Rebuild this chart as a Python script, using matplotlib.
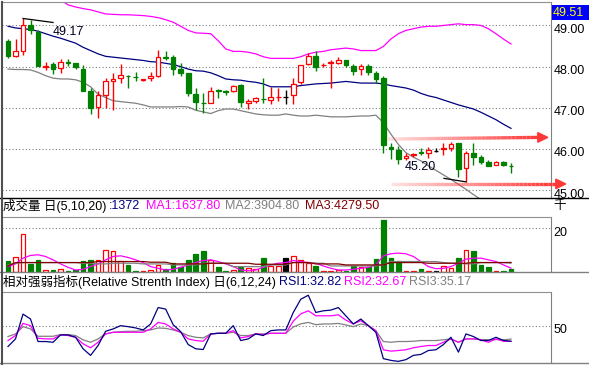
import numpy as np
import matplotlib
matplotlib.use('Agg')
import matplotlib.pyplot as plt
import matplotlib.transforms as mtransforms
from matplotlib.collections import LineCollection
from matplotlib.patches import Polygon, Rectangle
from matplotlib.lines import Line2D

plt.rcParams['font.family'] = ['Liberation Sans', 'Noto Sans CJK SC', 'DejaVu Sans']

nan = np.nan

# daily candles (68 days)
opens = [48.63, 48.27, 48.39, 49.02, 48.85, 48.00, 48.07, 47.96, 48.11, 48.10,
         47.94, 47.40, 47.01, 47.31, 47.66, 47.72, 47.78, 47.75, 47.68, 47.72,
         47.76, 48.23, 48.23, 47.94, 47.85, 47.33, 47.12, 47.11, 47.42, 47.40,
         47.41, 47.56, 47.11, 47.16, 47.22, 47.19, 47.26, 47.25, 47.31, 47.63,
         48.07, 48.27, 48.04, 48.08, 48.10, 48.16, 48.02, 47.93, 48.02, 47.84,
         47.72, 46.05, 45.98, 45.79, 45.86, 45.92, 45.89, 45.95, 45.99, 46.03,
         46.15, 45.53, 45.89, 45.81, 45.68, 45.61, 45.68, 45.59]
highs = [48.67, 48.67, 49.17, 49.14, 48.89, 48.11, 48.11, 48.19, 48.19, 48.10,
         48.05, 47.48, 47.41, 47.72, 47.84, 48.07, 47.79, 47.87, 47.71, 47.86,
         48.41, 48.39, 48.28, 48.08, 47.85, 47.49, 47.37, 47.51, 47.45, 47.43,
         47.55, 47.58, 47.21, 47.27, 47.72, 47.51, 47.49, 47.44, 47.72, 48.04,
         48.33, 48.39, 48.08, 48.15, 48.23, 48.16, 48.07, 48.07, 48.07, 47.90,
         47.78, 46.15, 46.07, 45.91, 45.91, 46.02, 46.04, 46.02, 46.15, 46.18,
         46.15, 45.95, 46.15, 45.85, 45.72, 45.71, 45.71, 45.65]
lows = [48.21, 48.23, 48.29, 48.80, 48.01, 47.92, 47.82, 47.84, 48.02, 47.93,
        47.40, 46.85, 46.75, 47.00, 46.95, 47.59, 47.47, 47.64, 47.66, 47.66,
        47.74, 48.16, 47.80, 47.76, 47.29, 46.94, 46.87, 47.11, 47.23, 47.31,
        47.39, 47.02, 46.98, 47.12, 47.12, 47.09, 47.16, 47.10, 47.10, 47.58,
        48.05, 47.89, 47.98, 47.49, 48.07, 48.00, 47.80, 47.80, 47.80, 47.59,
        45.91, 45.76, 45.63, 45.72, 45.80, 45.85, 45.77, 45.93, 45.86, 45.96,
        45.31, 45.20, 45.61, 45.64, 45.59, 45.61, 45.58, 45.41]
closes = [48.27, 48.39, 49.02, 48.89, 48.01, 48.02, 47.93, 48.12, 48.10, 47.98,
          47.40, 47.00, 47.31, 47.65, 47.71, 47.80, 47.77, 47.74, 47.71, 47.76,
          48.24, 48.21, 47.93, 47.84, 47.37, 47.15, 47.11, 47.40, 47.41, 47.39,
          47.52, 47.13, 47.17, 47.24, 47.21, 47.26, 47.27, 47.25, 47.58, 48.04,
          48.26, 47.98, 48.05, 48.11, 48.16, 48.03, 47.90, 48.02, 47.86, 47.70,
          46.10, 45.99, 45.75, 45.83, 45.87, 45.91, 45.98, 45.95, 46.03, 46.13,
          45.52, 45.89, 45.81, 45.68, 45.59, 45.68, 45.60, 45.58]

# bollinger-style bands on the price panel
boll_up = [nan, nan, nan, nan, nan, nan, nan, 49.62, 49.50, 49.45,
           49.41, 49.38, 49.33, 49.28, 49.27, 49.26, 49.26, 49.25, 49.24, 49.22,
           49.19, 49.14, 49.08, 48.98, 48.88, 48.82, 48.81, 48.80, 48.63, 48.43,
           48.37, 48.37, 48.35, 48.31, 48.24, 48.20, 48.20, 48.20, 48.20, 48.24,
           48.31, 48.35, 48.37, 48.41, 48.43, 48.45, 48.43, 48.39, 48.39, 48.39,
           48.49, 48.67, 48.80, 48.88, 48.92, 48.96, 48.98, 48.98, 49.00, 49.02,
           49.04, 49.02, 49.02, 49.00, 48.92, 48.80, 48.67, 48.55]
boll_mid = [48.98, 48.94, 48.92, 48.90, 48.86, 48.80, 48.74, 48.69, 48.63, 48.57,
            48.47, 48.39, 48.31, 48.25, 48.23, 48.21, 48.19, 48.17, 48.15, 48.12,
            48.11, 48.08, 48.05, 48.00, 47.94, 47.90, 47.89, 47.85, 47.78, 47.70,
            47.68, 47.67, 47.64, 47.62, 47.58, 47.51, 47.51, 47.51, 47.51, 47.54,
            47.56, 47.58, 47.59, 47.60, 47.62, 47.64, 47.62, 47.60, 47.60, 47.60,
            47.58, 47.54, 47.51, 47.48, 47.43, 47.35, 47.29, 47.25, 47.19, 47.13,
            47.07, 47.02, 46.97, 46.89, 46.80, 46.71, 46.60, 46.50]
boll_low = [47.94, 47.93, 47.93, 47.92, 47.86, 47.78, 47.72, 47.70, 47.70, 47.68,
            47.62, 47.51, 47.33, 47.25, 47.17, 47.15, 47.13, 47.11, 47.07, 47.02,
            47.02, 47.02, 47.02, 47.03, 47.02, 46.94, 46.90, 46.86, 46.93, 46.97,
            46.97, 46.93, 46.89, 46.85, 46.83, 46.82, 46.82, 46.85, 46.82, 46.80,
            46.80, 46.82, 46.80, 46.78, 46.78, 46.78, 46.79, 46.80, 46.80, 46.82,
            46.64, 46.36, 46.11, 45.91, 45.80, 45.71, 45.59, 45.48, 45.37, 45.26,
            45.14, 45.02, 44.89, 44.77, nan, nan, nan, nan]

# volume (lots) and its moving averages
volume = [5000, 6700, 17600, 3600, 5500, 800, 800, 1100, 470, 800,
          5000, 5500, 5500, 10150, 9700, 5150, 3100, 470, 330, 800,
          3100, 1100, 4200, 2350, 5500, 8100, 9350, 5500, 2000, 330,
          800, 2000, 1550, 1250, 6200, 2650, 2650, 6200, 7350, 5500,
          3900, 2650, 330, 330, 800, 470, 2650, 2350, 2000, 5750,
          23700, 6200, 5150, 470, 330, 1100, 470, 470, 2650, 1550,
          6200, 9800, 9350, 3100, 2000, 330, 330, 1372]
vol_ma1 = [2340, 3590, 6240, 7490, 7800, 7020, 5460, 3590, 2030, 780,
           1090, 2340, 3590, 5460, 7020, 7330, 6550, 5460, 4210, 2340,
           1560, 780, 1090, 2030, 3120, 4210, 5150, 5460, 4680, 3590,
           2340, 780, 470, 780, 2030, 3120, 3900, 4210, 5150, 4680,
           4210, 3900, 2650, 1560, 780, 780, 1090, 1560, 2030, 3120,
           7330, 8270, 8580, 8270, 7020, 4680, 2340, 1400, 1560, 2340,
           3900, 5770, 6240, 6240, 5460, 4680, 3120, 1637.80]
vol_ma2 = [3120, 3900, 4210, 4210, 4210, 4210, 4210, 4210, 4210, 4210,
           3900, 3900, 3590, 3590, 3900, 3900, 3900, 3900, 3590, 3590,
           3590, 3590, 3120, 3120, 3120, 3120, 3900, 3900, 3900, 3900,
           2340, 2340, 2340, 2340, 2340, 3120, 3120, 3120, 4210, 4210,
           4210, 3900, 3900, 2650, 2650, 2650, 2650, 2650, 2650, 2650,
           3120, 4680, 4680, 4680, 4680, 4680, 4680, 4680, 4210, 3900,
           3900, 3590, 3590, 4210, 4210, 4210, 4210, 3904.80]
vol_ma3 = [2650, 4210, 4210, 4210, 4210, 4210, 4210, 4210, 4210, 4210,
           4210, 4210, 4680, 4680, 4680, 4680, 4680, 4680, 4680, 4370,
           4370, 4370, 3590, 3590, 3590, 3590, 3590, 3900, 3900, 3900,
           3900, 3900, 3900, 3430, 3430, 3430, 3430, 3430, 4210, 4210,
           4210, 3590, 3590, 3590, 3590, 3120, 3120, 3120, 3120, 3120,
           3120, 4210, 4210, 4210, 4210, 4210, 3900, 3900, 3900, 3900,
           3900, 3900, 4210, 4210, 4210, 4210, 4210, 4279.50]

# RSI (6, 12, 24)
rsi1 = [27.0, 35.4, 62.8, 57.3, 32.5, 32.5, 31.7, 39.8, 39.8, 37.2,
        24.5, 17.2, 28.1, 43.8, 46.4, 50.0, 48.9, 47.5, 45.3, 51.9,
        70.0, 68.3, 51.1, 43.4, 29.2, 24.5, 23.7, 40.9, 41.6, 41.6,
        50.0, 33.6, 35.4, 40.9, 39.1, 44.5, 45.3, 45.3, 64.6, 79.2,
        83.6, 64.6, 66.4, 67.2, 70.0, 60.9, 51.9, 57.3, 50.0, 42.7,
        13.6, 11.7, 10.6, 12.5, 17.2, 18.3, 22.6, 23.4, 29.2, 37.2,
        20.8, 40.9, 38.0, 33.6, 33.6, 37.2, 33.6, 32.82]
rsi2 = [33.6, 39.1, 52.5, 50.0, 36.1, 35.4, 35.4, 39.8, 39.1, 37.2,
        30.0, 25.6, 31.7, 40.9, 42.7, 42.7, 42.7, 42.7, 42.7, 46.4,
        53.6, 51.9, 46.4, 42.7, 35.4, 33.6, 32.8, 40.9, 41.6, 41.6,
        44.5, 36.5, 38.0, 40.9, 40.2, 41.6, 41.6, 41.6, 55.0, 63.0,
        66.4, 60.9, 60.9, 60.9, 62.0, 56.2, 51.9, 55.5, 50.0, 44.5,
        23.4, 21.9, 22.6, 23.4, 25.6, 27.0, 28.1, 28.1, 31.7, 35.4,
        31.7, 35.4, 35.4, 34.4, 31.7, 35.4, 32.8, 32.67]
rsi3 = [38.0, 40.9, 48.9, 46.4, 38.3, 38.3, 38.3, 40.2, 40.2, 39.1,
        34.4, 31.7, 35.4, 40.9, 42.7, 43.4, 43.8, 43.8, 44.5, 45.3,
        47.5, 47.0, 45.3, 42.7, 39.1, 37.2, 36.5, 40.9, 41.6, 41.6,
        42.7, 39.1, 39.1, 40.9, 40.9, 41.6, 41.6, 41.6, 48.5, 52.0,
        53.6, 51.1, 51.9, 51.9, 52.5, 50.8, 48.9, 51.9, 50.0, 44.5,
        32.5, 31.7, 32.5, 32.5, 32.8, 33.6, 33.6, 33.6, 34.4, 35.4,
        31.7, 35.4, 35.4, 34.7, 34.4, 34.7, 34.4, 35.17]

price_ticks = [45, 46, 47, 48, 49]
cursor_price = 49.51
vol_ticks = [20000]
rsi_ticks = [50]

RED, GREEN, BLACK = '#ff0000', '#008000', '#000000'
MAG, NAVY, GRAY, DRED = '#ff00ff', '#000080', '#808080', '#800000'

W, H = 589, 365
fig = plt.figure(figsize=(W / 100, H / 100), dpi=100)
label_shift = mtransforms.ScaledTranslation(0, -3 / 100, fig.dpi_scale_trans)


def panel(top_px, bottom_px):
    a = fig.add_axes([2 / W, 1 - bottom_px / H, 549 / W, (bottom_px - top_px) / H])
    a.set_xlim(-0.8, 72.33)
    a.set_xticks([])
    a.yaxis.tick_right()
    a.tick_params(axis='y', length=0, pad=2, labelsize=9, labelcolor='#000000')
    a.grid(axis='y', linestyle=(0, (1, 2)), color='#808080', lw=0.8)
    a.set_axisbelow(True)
    a.spines['left'].set_visible(False)
    a.spines['top'].set_color('#909090')
    a.spines['right'].set_color('#808080')
    a.spines['bottom'].set_visible(False)
    return a


def shift_labels(a):
    for lbl in a.get_yticklabels():
        lbl.set_transform(lbl.get_transform() + label_shift)


ax = panel(2, 197.5)
axv = panel(216.7, 271.7)
axr = panel(291.7, 363)

x = np.arange(len(opens))
o = np.array(opens)
c = np.array(closes)
colors = [RED if cc > oo else GREEN if cc < oo else BLACK for oo, cc in zip(opens, closes)]
faces = ['white' if col == RED else col for col in colors]

# ---- price panel
ax.plot(x, boll_up, color=MAG, lw=0.9, zorder=1)
ax.plot(x, boll_mid, color=NAVY, lw=0.9, zorder=1)
ax.plot(x, boll_low, color=GRAY, lw=0.9, zorder=1)
ax.vlines(x, lows, highs, colors=colors, lw=1, zorder=2)
ax.bar(x, np.maximum(np.abs(c - o), 0.004), bottom=np.minimum(o, c), width=0.62,
       color=faces, edgecolor=colors, linewidth=0.9, zorder=3)
ax.set_ylim(44.82, 49.57)
ax.set_yticks(price_ticks)
ax.set_yticklabels(['%.2f' % t for t in price_ticks])
shift_labels(ax)

# high / low markers
px_x, px_y = 1 / 7.507, 1 / 41
imax = int(np.argmax(highs))
ax.plot([imax, imax + 30 * px_x], [highs[imax], highs[imax] - 4 * px_y], color='black', lw=0.9)
ax.text(imax + 30 * px_x, highs[imax] - 13 * px_y, '%.2f' % highs[imax], fontsize=9,
        va='center', ha='left', color='#000020')
imin = int(np.argmin(lows))
ax.plot([imin, imin - 22 * px_x], [lows[imin], lows[imin] + 3.5 * px_y], color='black', lw=0.9)
ax.text(imin - 30 * px_x, lows[imin] + 15 * px_y, '%.2f' % lows[imin], fontsize=9,
        va='center', ha='right', color='#000020')


def red_arrow(a, x0, x1, y0, y1):
    hl, hh = 10 * px_x, 4.8 * px_y
    n = 40
    xs = np.linspace(x0, x1 - hl, n + 1)
    ys = np.linspace(y0, y1, n + 1)
    segs = [[(xs[i], ys[i]), (xs[i + 1], ys[i + 1])] for i in range(n)]
    cols = [(1, 0.22, 0.22, al) for al in np.linspace(0.15, 1.0, n)]
    a.add_collection(LineCollection(segs, colors=cols, linewidths=2.4, clip_on=False, zorder=5))
    a.add_patch(Polygon([(x1 - hl, y1 + hh), (x1, y1), (x1 - hl, y1 - hh)], closed=True,
                        color=(1, 0.22, 0.22), clip_on=False, zorder=5))


red_arrow(ax, 50.6, 71.9, 46.24, 46.28)
red_arrow(ax, 51.0, 74.3, 45.15, 45.15)

# cursor price box
fig.patches.append(Rectangle((551.5 / W, 1 - 19.5 / H), 37.5 / W, 15 / H, transform=fig.transFigure,
                             facecolor='#0000ff', edgecolor='none'))
fig.text(553 / W, 1 - 12.5 / H, '%.2f' % cursor_price, color='#ffff00', fontsize=9, va='center')

# ---- volume panel
axv.bar(x, volume, width=0.62, color=faces, edgecolor=colors, linewidth=0.9, zorder=3)
axv.plot(x, vol_ma1, color=MAG, lw=0.9, zorder=4)
axv.plot(x, vol_ma2, color=GRAY, lw=0.9, zorder=4)
axv.plot(x, vol_ma3, color=DRED, lw=0.9, zorder=4)
axv.set_ylim(0, 25350)
axv.set_yticks(vol_ticks)
axv.set_yticklabels(['%d' % (t / 1000) for t in vol_ticks])
shift_labels(axv)

# ---- RSI panel
axr.plot(x, rsi3, color=GRAY, lw=0.9)
axr.plot(x, rsi2, color=MAG, lw=0.9)
axr.plot(x, rsi1, color=NAVY, lw=0.9)
axr.set_ylim(8.8, 87.5)
axr.set_yticks(rsi_ticks)
axr.set_yticklabels(['%d' % t for t in rsi_ticks])
shift_labels(axr)


# frame lines spanning the whole window
def hline(yp, col):
    fig.add_artist(Line2D([0, 1], [1 - yp / H] * 2, color=col, lw=1))


hline(197.5, 'black')
hline(271.7, '#808080')
hline(363, '#808080')
fig.add_artist(Line2D([2 / W] * 2, [0, 1 - 1.5 / H], color='#505050', lw=1.5))


def head(xp, yp, s, col):
    fig.text(xp / W, 1 - yp / H, s, color=col, fontsize=9, va='center', ha='left')


head(3, 206.5, '成交量 日(5,10,20)', 'black')
head(109, 206.5, ':%d' % volume[-1], NAVY)
head(146, 206.5, 'MA1:%.2f' % vol_ma1[-1], MAG)
head(225, 206.5, 'MA2:%.2f' % vol_ma2[-1], GRAY)
head(305, 206.5, 'MA3:%.2f' % vol_ma3[-1], DRED)
head(553, 206.5, '千', 'black')

head(3, 282.3, '相对强弱指标(Relative Strenth Index) 日(6,12,24)', 'black')
head(279, 282.3, 'RSI1:%.2f' % rsi1[-1], NAVY)
head(344, 282.3, 'RSI2:%.2f' % rsi2[-1], MAG)
head(409, 282.3, 'RSI3:%.2f' % rsi3[-1], GRAY)

fig.savefig('out.png', dpi=100)
